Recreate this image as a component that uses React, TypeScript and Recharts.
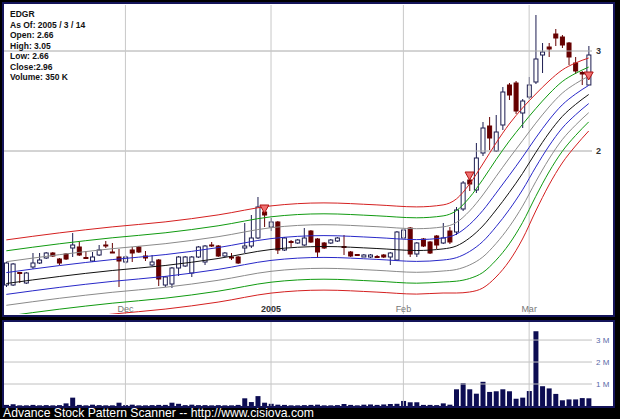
import React from "react";
import { ComposedChart, BarChart, Bar, Line, XAxis, YAxis, ReferenceLine } from "recharts";

// EDGR daily candles, early Nov 2004 .. 2005/3/14
const opens = [
  0.66, 0.66, 0.785, 0.68, 0.84, 0.88, 0.93, 0.98, 0.92, 0.97,
  1.03, 1.04, 0.935, 0.9, 0.96, 1.06, 0.99, 0.94, 0.89, 1.01,
  1.04, 0.95, 0.86, 0.91, 0.66, 0.67, 0.83, 0.85, 0.78, 0.94,
  0.89, 1.06, 1.05, 0.95, 0.94, 0.94, 1.03, 1.05, 1.13, 1.39,
  1.24, 1.29, 1.01, 1.095, 1.08, 1.06, 1.2, 1.12, 1.08, 1.08,
  1.1, 1.045, 0.99, 0.965, 0.94, 0.94, 0.945, 0.96, 0.94, 0.91,
  1.13, 1.23, 0.97, 1.12, 1.09, 1.15, 1.08, 1.2, 1.19, 1.42,
  1.71, 1.61, 1.98, 2.25, 2.0, 2.26, 2.66, 2.68, 2.38, 2.54,
  2.69, 2.96, 3.04, 3.17, 3.14, 3.08, 2.88, 2.785, 2.66,
];
const closes = [
  0.88, 0.87, 0.78, 0.78, 0.88, 0.91, 0.98, 0.95, 0.88, 0.92,
  1.06, 0.96, 0.93, 0.94, 1.01, 1.05, 0.985, 0.9, 0.94, 0.98,
  0.99, 0.93, 0.89, 0.72, 0.74, 0.83, 0.94, 0.94, 0.94, 1.04,
  1.05, 1.055, 0.95, 0.98, 0.935, 0.88, 1.05, 1.13, 1.44, 1.36,
  1.29, 1.01, 1.13, 1.09, 1.11, 1.13, 1.09, 0.99, 1.03, 1.11,
  1.13, 1.04, 0.95, 0.96, 0.96, 0.96, 0.94, 0.94, 0.98, 1.19,
  1.21, 0.97, 1.08, 1.05, 0.98, 1.06, 1.13, 1.09, 1.41, 1.68,
  1.67, 1.93, 2.23, 2.13, 2.19, 2.59, 2.56, 2.4, 2.5, 2.66,
  2.92, 2.99, 3.02, 3.13, 3.06, 2.94, 2.8, 2.77, 2.96,
];
const highs = [
  0.89, 0.88, 0.79, 0.79, 0.98, 0.98, 0.99, 0.99, 0.93, 0.98,
  1.18, 1.09, 1.0, 0.99, 1.06, 1.1, 1.08, 1.02, 0.96, 1.04,
  1.05, 1.0, 0.96, 0.92, 0.75, 0.84, 0.95, 0.95, 0.95, 1.05,
  1.06, 1.09, 1.06, 0.99, 0.98, 0.95, 1.28, 1.36, 1.54, 1.44,
  1.33, 1.3, 1.14, 1.11, 1.12, 1.23, 1.21, 1.13, 1.09, 1.12,
  1.14, 1.16, 1.0, 0.97, 0.97, 0.97, 0.96, 0.97, 0.99, 1.2,
  1.22, 1.24, 1.09, 1.13, 1.1, 1.16, 1.28, 1.24, 1.44, 1.7,
  1.72, 2.08, 2.29, 2.34, 2.36, 2.64, 2.68, 2.7, 2.52, 2.74,
  3.36, 3.08, 3.08, 3.22, 3.16, 3.09, 2.94, 2.8, 3.05,
];
const lows = [
  0.64, 0.65, 0.68, 0.67, 0.82, 0.87, 0.92, 0.94, 0.86, 0.91,
  0.94, 0.95, 0.93, 0.89, 0.95, 1.03, 0.98, 0.64, 0.87, 0.89,
  0.98, 0.9, 0.85, 0.65, 0.64, 0.63, 0.75, 0.84, 0.74, 0.93,
  0.86, 1.04, 0.94, 0.94, 0.91, 0.87, 0.98, 1.03, 1.12, 1.24,
  1.2, 0.97, 1.0, 1.04, 1.07, 1.05, 1.08, 0.93, 1.02, 1.07,
  1.09, 0.96, 0.94, 0.95, 0.94, 0.93, 0.93, 0.93, 0.86, 0.9,
  1.12, 0.94, 0.94, 1.04, 0.97, 1.02, 1.07, 1.07, 1.16, 1.4,
  1.6, 1.58, 1.95, 2.01, 1.99, 2.21, 2.51, 2.37, 2.23, 2.52,
  2.67, 2.78, 2.94, 3.05, 3.03, 2.86, 2.77, 2.66, 2.66,
];
// volume in millions of shares
const volumes = [
  0.05, 0.08, 0.03, 0.03, 0.05, 0.03, 0.04, 0.03, 0.04, 0.12,
  0.38, 0.05, 0.03, 0.06, 0.04, 0.03, 0.03, 0.15, 0.04, 0.06,
  0.03, 0.03, 0.04, 0.05, 0.05, 0.15, 0.1, 0.04, 0.06, 0.04,
  0.04, 0.03, 0.04, 0.03, 0.03, 0.05, 0.35, 0.18, 0.45, 0.15,
  0.1, 0.06, 0.05, 0.03, 0.03, 0.04, 0.05, 0.06, 0.03, 0.03,
  0.04, 0.09, 0.05, 0.03, 0.06, 0.07, 0.05, 0.07, 0.09, 0.1,
  0.23, 0.17, 0.17, 0.05, 0.05, 0.04, 0.12, 0.06, 0.76, 1.04,
  0.76, 0.56, 1.1, 0.64, 0.67, 0.76, 0.67, 0.33, 0.38, 0.68,
  3.4, 0.9, 0.8, 0.55, 0.26, 0.3, 0.3, 0.36, 0.35,
];

// signal markers (down triangles)
const markerIdx = [39, 70, 88];
const markerVal = [1.42, 1.75, 2.75];

// envelope lines, sampled at these candle positions
const bandIdx = [0, 8, 16, 24, 32, 40, 48, 56, 62, 66, 68, 70, 72, 74, 76, 78, 80, 82, 84, 86, 88];
const redUp = [1.111, 1.181, 1.241, 1.291, 1.361, 1.451, 1.481, 1.461, 1.441, 1.461, 1.52, 1.67, 1.87, 2.08, 2.27, 2.43, 2.57, 2.7, 2.81, 2.88, 2.93];
const greenUp = [1.002, 1.072, 1.132, 1.182, 1.252, 1.342, 1.372, 1.352, 1.332, 1.351, 1.403, 1.535, 1.715, 1.913, 2.099, 2.266, 2.424, 2.57, 2.694, 2.776, 2.839];
const grayUp = [0.893, 0.963, 1.023, 1.073, 1.143, 1.233, 1.263, 1.243, 1.223, 1.241, 1.285, 1.4, 1.56, 1.745, 1.928, 2.103, 2.278, 2.44, 2.578, 2.673, 2.748];
const blueUp = [0.784, 0.854, 0.914, 0.964, 1.034, 1.124, 1.154, 1.134, 1.114, 1.131, 1.168, 1.265, 1.405, 1.578, 1.756, 1.939, 2.131, 2.31, 2.461, 2.569, 2.656];
const mid = [0.675, 0.745, 0.805, 0.855, 0.925, 1.015, 1.045, 1.025, 1.005, 1.021, 1.05, 1.13, 1.25, 1.41, 1.585, 1.775, 1.985, 2.18, 2.345, 2.465, 2.565];
const blueDn = [0.566, 0.636, 0.696, 0.746, 0.816, 0.906, 0.936, 0.916, 0.896, 0.91, 0.933, 0.995, 1.095, 1.243, 1.414, 1.611, 1.839, 2.05, 2.229, 2.361, 2.474];
const grayDn = [0.457, 0.527, 0.587, 0.637, 0.707, 0.797, 0.827, 0.807, 0.787, 0.8, 0.815, 0.86, 0.94, 1.075, 1.243, 1.448, 1.693, 1.92, 2.113, 2.258, 2.383];
const greenDn = [0.348, 0.418, 0.478, 0.528, 0.598, 0.688, 0.718, 0.698, 0.678, 0.69, 0.698, 0.725, 0.785, 0.908, 1.071, 1.284, 1.546, 1.79, 1.996, 2.154, 2.291];
const redDn = [0.239, 0.309, 0.369, 0.419, 0.489, 0.579, 0.609, 0.589, 0.569, 0.58, 0.58, 0.59, 0.63, 0.74, 0.9, 1.12, 1.4, 1.66, 1.88, 2.05, 2.2];

const monthTicks = [
  { i: 18, label: "Dec", color: "#777", weight: "normal" },
  { i: 40, label: "2005", color: "#333", weight: "bold" },
  { i: 60, label: "Feb", color: "#777", weight: "normal" },
  { i: 79, label: "Mar", color: "#777", weight: "normal" },
];

const info = ["EDGR", "As Of: 2005 / 3 / 14", "Open: 2.66", "High: 3.05", "Low: 2.66", "Close:2.96", "Volume: 350 K"];

const bands = [
  { key: "redUp", vals: redUp, color: "#d42020" },
  { key: "greenUp", vals: greenUp, color: "#109a10" },
  { key: "grayUp", vals: grayUp, color: "#8a8a8a" },
  { key: "blueUp", vals: blueUp, color: "#2828c8" },
  { key: "mid", vals: mid, color: "#111111" },
  { key: "blueDn", vals: blueDn, color: "#2828c8" },
  { key: "grayDn", vals: grayDn, color: "#8a8a8a" },
  { key: "greenDn", vals: greenDn, color: "#109a10" },
  { key: "redDn", vals: redDn, color: "#d42020" },
];

const data: any[] = opens.map((o, i) => ({
  i,
  o,
  c: closes[i],
  h: highs[i],
  l: lows[i],
  range: [lows[i], highs[i]],
  vol: volumes[i],
}));
bands.forEach((b) => bandIdx.forEach((bi, k) => (data[bi][b.key] = b.vals[k])));
markerIdx.forEach((mi, k) => (data[mi].mk = markerVal[k]));

const FONT = "'Liberation Sans', Arial, sans-serif";

const Candle = (props: any) => {
  const { x, y, width, height, payload } = props;
  if (x == null || y == null) return null;
  const top = Math.min(y, y + height);
  const hh = Math.abs(height);
  const { o, c, h, l } = payload;
  const py = (v: number) => top + ((h - v) / (h - l)) * hh;
  const up = c > o;
  const col = up ? "#1c1c50" : "#660000";
  const cx = x + width / 2;
  const bt = py(Math.max(o, c));
  const bb = py(Math.min(o, c));
  return (
    <g>
      <line x1={cx} x2={cx} y1={top} y2={top + hh} stroke={col} strokeWidth={1} />
      <rect
        x={x + 0.5}
        y={bt}
        width={width - 1}
        height={Math.max(bb - bt, 1)}
        fill={up ? "#ffffff" : "#660000"}
        stroke={col}
        strokeWidth={1}
      />
    </g>
  );
};

const Tri = (props: any) => {
  const { cx, cy } = props;
  if (cx == null || cy == null || isNaN(cy)) return null;
  return (
    <path
      d={`M${cx - 4.5},${cy - 4} L${cx + 4.5},${cy - 4} L${cx},${cy + 4} Z`}
      fill="#f07070"
      stroke="#b01010"
      strokeWidth={1}
    />
  );
};

export default function App() {
  return (
    <div style={{ position: "fixed", left: 0, top: 0, width: 620, height: 419, background: "#000", fontFamily: FONT, overflow: "hidden" }}>
      {/* price panel */}
      <div
        style={{
          position: "absolute", left: 2, top: 2, width: 613, height: 315,
          boxSizing: "border-box", border: "2px solid #14145a", background: "#fff", overflow: "hidden",
        }}
      >
        <div style={{ position: "absolute", left: -4, top: -4 }}>
          <ComposedChart width={620} height={320} data={data} margin={{ top: 5, right: 0, bottom: 6, left: 3 }}>
            <XAxis dataKey="i" type="category" hide />
            <YAxis
              orientation="right"
              width={28}
              domain={[0.37, 3.46]}
              allowDataOverflow
              ticks={[2, 3]}
              tickSize={0}
              tickMargin={4}
              axisLine={false}
              tickLine={false}
              tick={{ fill: "#333", fontSize: 9, fontWeight: "bold", fontFamily: FONT }}
            />
            <ReferenceLine y={3} stroke="#a8a8a8" />
            <ReferenceLine y={2} stroke="#a8a8a8" />
            {monthTicks.map((m) => (
              <ReferenceLine key={m.label} x={m.i} stroke="#c8c8c8" />
            ))}
            {bands.map((b) => (
              <Line
                key={b.key}
                dataKey={b.key}
                type="monotone"
                stroke={b.color}
                strokeWidth={1}
                dot={false}
                activeDot={false}
                connectNulls
                isAnimationActive={false}
              />
            ))}
            <Bar dataKey="range" barSize={5} shape={<Candle />} isAnimationActive={false} />
            <Line dataKey="mk" stroke="none" dot={<Tri />} activeDot={false} isAnimationActive={false} />
            {monthTicks.map((m) => (
              <ReferenceLine
                key={"lbl" + m.label}
                x={m.i}
                stroke="none"
                label={{ value: m.label, position: "insideBottom", offset: 2, fill: m.color, fontSize: 9, fontWeight: m.weight, fontFamily: FONT }}
              />
            ))}
          </ComposedChart>
        </div>
        <div style={{ position: "absolute", left: 6, top: 5, fontSize: 8.5, fontWeight: "bold", color: "#111", lineHeight: "10.5px" }}>
          {info.map((t) => (
            <div key={t}>{t}</div>
          ))}
        </div>
      </div>

      {/* volume panel */}
      <div
        style={{
          position: "absolute", left: 2, top: 320, width: 613, height: 88,
          boxSizing: "border-box", border: "2px solid #14145a", background: "#fff", overflow: "hidden",
        }}
      >
        <div style={{ position: "absolute", left: -4, top: -322 }}>
          <BarChart width={620} height={408} data={data} margin={{ top: 322, right: 0, bottom: 2, left: 3 }}>
            <XAxis dataKey="i" type="category" hide />
            <YAxis
              orientation="right"
              width={28}
              domain={[0, 3.82]}
              allowDataOverflow
              ticks={[1, 2, 3]}
              tickFormatter={(v: number) => `${v} M`}
              tickSize={0}
              tickMargin={4}
              axisLine={false}
              tickLine={false}
              tick={{ fill: "#5a6aa8", fontSize: 8, fontFamily: FONT }}
            />
            {[1, 2, 3].map((v) => (
              <ReferenceLine key={v} y={v} stroke="#c0c0c0" />
            ))}
            {monthTicks.map((m) => (
              <ReferenceLine key={m.label} x={m.i} stroke="#c8c8c8" />
            ))}
            <Bar dataKey="vol" barSize={5} fill="#0c0c52" isAnimationActive={false} />
          </BarChart>
        </div>
      </div>

      <svg width={620} height={419} style={{ position: "absolute", left: 0, top: 0, pointerEvents: "none" }}>
        <text x={3} y={417} fill="#ffffff" fontSize={12.2} fontFamily={FONT}>
          Advance Stock Pattern Scanner -- http://www.cisiova.com
        </text>
      </svg>
    </div>
  );
}
